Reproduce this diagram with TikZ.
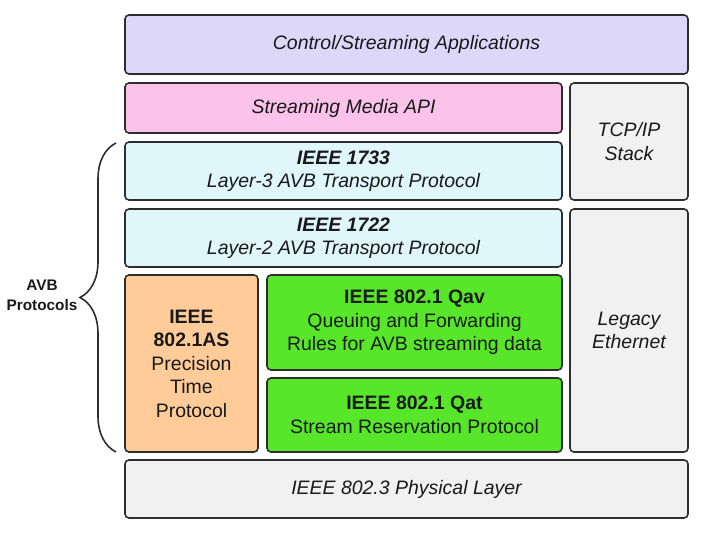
\documentclass[tikz,border=0pt]{standalone}
\usepackage{fontspec}
\setmainfont{Liberation Sans}
\usepackage{tikz}
\usetikzlibrary{decorations.pathreplacing, positioning, calc}
\definecolor{avbviolet}{RGB}{221,215,250}
\definecolor{avbpink}{RGB}{252,195,234}
\definecolor{avbcyan}{RGB}{223,246,250}
\definecolor{avborange}{RGB}{255,204,153}
\definecolor{avbgreen}{RGB}{87,230,42}
\definecolor{avbgray}{RGB}{241,241,241}
\definecolor{avbline}{RGB}{45,45,45}
\definecolor{avbtext}{RGB}{25,25,25}

\tikzset{
  layer/.style={draw=avbline, line width=1.2pt, rounded corners=3pt,
                inner sep=0pt, align=center, text=avbtext,
                font=\fontsize{14.6}{17.6}\selectfont},
  note/.style={layer, font=\fontsize{14.6}{17.6}\selectfont\itshape}
}

\begin{document}
\begin{tikzpicture}[x=0.75pt, y=-0.75pt]
\useasboundingbox (0,0) rectangle (703,534);

%% TOP – applications and API
\node[note, fill=avbviolet, minimum width=422.25pt, minimum height=44.25pt]
  (ctrl) at (406.5, 44.5) {Control/Streaming Applications};
\node[note, fill=avbpink, minimum width=327.75pt, minimum height=37.5pt]
  (api) at (343.5, 108) {Streaming Media API};
\node[note, fill=avbgray, minimum width=88.5pt, minimum height=87.75pt]
  (tcpip) at (629, 141.5) {TCP/IP\\Stack};

%% MIDDLE – transport protocols
\node[note, fill=avbcyan, minimum width=327.75pt, minimum height=43.5pt]
  (l3) at (343.5, 171) {\textbf{IEEE 1733}\\Layer-3 AVB Transport Protocol};
\node[note, fill=avbcyan, minimum width=327.75pt, minimum height=43.5pt]
  (l2) at (343.5, 238) {\textbf{IEEE 1722}\\Layer-2 AVB Transport Protocol};
\node[note, fill=avbgray, minimum width=88.5pt, minimum height=182.25pt]
  (legacy) at (629, 330.5) {Legacy\\Ethernet};

%% BOTTOM – 802.1 protocols
\node[layer, fill=avborange, minimum width=99.75pt, minimum height=132.75pt]
  (gptp) at (191.5, 363.5) {\textbf{IEEE}\\\textbf{802.1AS}\\Precision\\Time\\Protocol};
\node[layer, fill=avbgreen, minimum width=221.25pt, minimum height=71.25pt]
  (qav) at (414.5, 322.5)
  {\textbf{IEEE 802.1 Qav}\\Queuing and Forwarding\\Rules for AVB streaming data};
\node[layer, fill=avbgreen, minimum width=221.25pt, minimum height=55.5pt]
  (qat) at (414.5, 415) {\textbf{IEEE 802.1 Qat}\\Stream Reservation Protocol};
\node[note, fill=avbgray, minimum width=422.25pt, minimum height=43.5pt]
  (phys) at (406.5, 489) {IEEE 802.3 Physical Layer};

%% AVB brace
\coordinate (braceBot) at (116, 452);
\coordinate (braceTop) at (116, 143);
\draw[avbline, line width=1.2pt,
      decorate, decoration={brace, amplitude=27pt}]
  (braceBot) -- (braceTop);
\node[font=\fontsize{11.5}{15}\selectfont\bfseries, text=avbtext, align=center]
  (avb) at (42, 295) {AVB\\Protocols};
\end{tikzpicture}
\end{document}
